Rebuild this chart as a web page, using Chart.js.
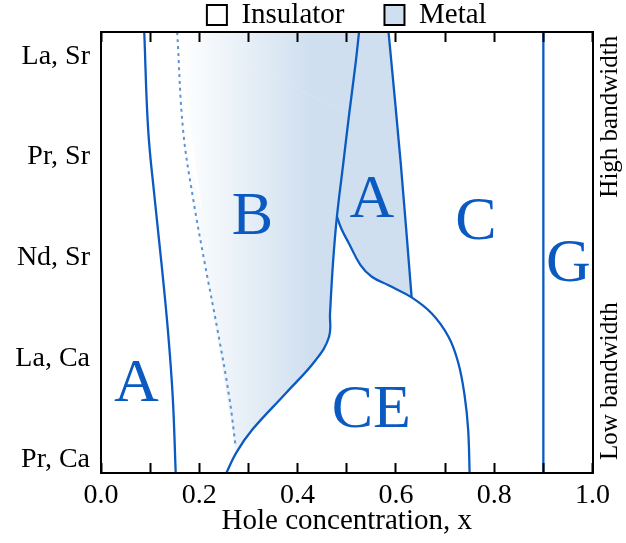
<!DOCTYPE html>
<html>
<head>
<meta charset="utf-8">
<script src="https://cdn.jsdelivr.net/npm/chart.js@4.4.0/dist/chart.umd.min.js"></script>
<style>
  html, body { margin: 0; padding: 0; background: #fff; }
  #wrap { width: 626px; height: 543px; }
</style>
</head>
<body>
<div id="wrap"><canvas id="chart" width="626" height="543"></canvas></div>
<script>
// Compuestos en el eje y (índice 0 = abajo) y marcas del eje x
const compounds = ['Pr, Ca', 'La, Ca', 'Nd, Sr', 'Pr, Sr', 'La, Sr'];
const compoundTicks = [0, 1, 2, 3, 4];
const xTickValues = [0, 0.1, 0.2, 0.3, 0.4, 0.5, 0.6, 0.7, 0.8, 0.9, 1.0];
const xTickLabels = ['0.0', '', '0.2', '', '0.4', '', '0.6', '', '0.8', '', '1.0'];

// Fronteras de fase (x = concentración de huecos, y = compuesto)
const boundaryA_x = [0.088, 0.096, 0.109, 0.123, 0.136, 0.146, 0.152];
const boundaryA_y = [4.24, 3.27, 2.60, 1.95, 1.29, 0.62, -0.13];

const dotted_x = [0.155, 0.167, 0.187, 0.211, 0.237, 0.261, 0.274];
const dotted_y = [4.24, 3.27, 2.60, 1.95, 1.29, 0.62, 0.13];

const boundaryB_x = [0.255, 0.275, 0.308, 0.376, 0.437, 0.464, 0.466, 0.472, 0.480, 0.493, 0.505, 0.518, 0.525];
const boundaryB_y = [-0.13, 0.07, 0.30, 0.66, 0.99, 1.22, 1.45, 1.95, 2.41, 2.94, 3.43, 3.93, 4.24];

// borde izquierdo de la zona metálica A (solo para el relleno)
const metalA_x = [0.632, 0.585, 0.551, 0.528, 0.504, 0.490, 0.480, 0.480, 0.493, 0.505, 0.518, 0.525];
const metalA_y = [1.61, 1.73, 1.815, 1.93, 2.15, 2.28, 2.41, 2.41, 2.94, 3.43, 3.93, 4.24];

const boundaryC_x = [0.632, 0.610, 0.585];
const boundaryC_y = [1.61, 2.93, 4.24];

const boundaryCE_x = [0.480, 0.490, 0.504, 0.528, 0.551, 0.585, 0.632, 0.673, 0.707, 0.727, 0.740, 0.747, 0.750];
const boundaryCE_y = [2.41, 2.28, 2.15, 1.93, 1.815, 1.73, 1.61, 1.45, 1.22, 0.96, 0.63, 0.30, -0.13];

const boundaryG_x = [0.9, 0.9];
const boundaryG_y = [-0.13, 4.24];

// Etiquetas de las fases y texto lateral
const regionText = ['A', 'B', 'A', 'C', 'G', 'CE'];
const regionX = [0.072, 0.308, 0.551, 0.763, 0.951, 0.550];
const regionY = [0.58, 2.24, 2.41, 2.19, 1.77, 0.33];
const bandwidthText = ['High bandwidth', 'Low bandwidth'];
const bandwidthY = [3.40, 0.78];

const legendNames = ['Insulator', 'Metal'];

const lineBlue = '#0a5ac2';
const dottedBlue = '#5d92d2';
const metalFill = '#cfdfef';
const serif = '"Liberation Serif", "Times New Roman", serif';

function pts(xs, ys) {
    return xs.map((v, i) => ({ x: v, y: ys[i] }));
}

// Degradado horizontal de la zona B
function bGradient(context) {
    const chart = context.chart;
    const xs = chart.scales.x;
    if (!chart.chartArea || !xs) return metalFill;
    const g = chart.ctx.createLinearGradient(xs.getPixelForValue(0.16), 0, xs.getPixelForValue(0.43), 0);
    g.addColorStop(0, '#ffffff');
    g.addColorStop(1, metalFill);
    return g;
}

function curve(data, extra) {
    return Object.assign({
        data: data,
        borderColor: lineBlue,
        borderWidth: 2.3,
        pointRadius: 0,
        pointHoverRadius: 0,
        tension: 0.4,
        fill: false
    }, extra || {});
}

const phaseLabels = {
    id: 'phaseLabels',
    afterDatasetsDraw(chart) {
        const { ctx, chartArea } = chart;
        const xs = chart.scales.x, ys = chart.scales.y;
        ctx.save();
        ctx.fillStyle = lineBlue;
        ctx.font = '62px ' + serif;
        ctx.textAlign = 'center';
        ctx.textBaseline = 'alphabetic';
        regionText.forEach((t, i) => {
            ctx.fillText(t, xs.getPixelForValue(regionX[i]), ys.getPixelForValue(regionY[i]));
        });
        ctx.fillStyle = '#000';
        ctx.font = '25px ' + serif;
        ctx.textBaseline = 'middle';
        bandwidthText.forEach((t, i) => {
            ctx.save();
            ctx.translate(chartArea.right + 18, ys.getPixelForValue(bandwidthY[i]));
            ctx.rotate(-Math.PI / 2);
            ctx.fillText(t, 0, 0);
            ctx.restore();
        });
        ctx.restore();
    }
};

const tickFont = { family: serif, size: 28 };

new Chart(document.getElementById('chart'), {
    type: 'line',
    data: {
        datasets: [
            curve(pts(boundaryA_x, boundaryA_y)),
            curve(pts(dotted_x, dotted_y), { borderColor: dottedBlue, borderWidth: 2, borderDash: [3, 4] }),
            curve(pts(boundaryB_x, boundaryB_y), { fill: 1, backgroundColor: bGradient }),
            curve(pts(metalA_x, metalA_y), { borderWidth: 0, fill: '+1', backgroundColor: metalFill }),
            curve(pts(boundaryC_x, boundaryC_y)),
            curve(pts(boundaryCE_x, boundaryCE_y)),
            curve(pts(boundaryG_x, boundaryG_y), { tension: 0 })
        ]
    },
    options: {
        indexAxis: 'y',
        responsive: false,
        animation: false,
        events: [],
        layout: { padding: { top: -39.5, left: 0, right: 0, bottom: 0 } },
        scales: {
            x: {
                type: 'linear', position: 'bottom', min: 0, max: 1,
                afterBuildTicks: (s) => { s.ticks = xTickValues.map(v => ({ value: v })); },
                afterFit: (s) => { s.height = 70; },
                ticks: {
                    callback: (v, i) => xTickLabels[i],
                    autoSkip: false, maxRotation: 0, minRotation: 0,
                    font: tickFont, color: '#000', padding: 16
                },
                grid: { drawOnChartArea: false, tickLength: -10, tickColor: '#000', tickWidth: 2, z: 1 },
                border: { color: '#000', width: 2, z: 2 },
                title: { display: true, text: 'Hole concentration, x', font: { family: serif, size: 29 }, color: '#000', padding: { top: 0, bottom: 4 } }
            },
            x2: {
                type: 'linear', axis: 'x', position: 'top', min: 0, max: 1,
                afterBuildTicks: (s) => { s.ticks = xTickValues.map(v => ({ value: v })); },
                afterFit: (s) => { s.height = 0; },
                ticks: { display: false },
                grid: { drawOnChartArea: false, tickLength: -10, tickColor: '#000', tickWidth: 2, z: 1 },
                border: { color: '#000', width: 2, z: 2 }
            },
            y: {
                type: 'linear', position: 'left', min: -0.13, max: 4.24,
                afterBuildTicks: (s) => { s.ticks = compoundTicks.map(v => ({ value: v })); },
                afterFit: (s) => { s.width = 101; },
                ticks: { callback: (v) => compounds[v], font: tickFont, color: '#000', padding: 11 },
                grid: { drawOnChartArea: false, drawTicks: false },
                border: { color: '#000', width: 2, z: 2 }
            },
            y2: {
                type: 'linear', axis: 'y', position: 'right', min: -0.13, max: 4.24,
                afterFit: (s) => { s.width = 31; },
                ticks: { display: false },
                grid: { drawOnChartArea: false, drawTicks: false },
                border: { color: '#000', width: 2, z: 2 }
            }
        },
        plugins: {
            filler: { drawTime: 'beforeDatasetsDraw', propagate: false },
            tooltip: { enabled: false },
            legend: {
                position: 'top',
                fullSize: false,
                maxHeight: 71.5,
                onClick: null,
                labels: {
                    boxWidth: 20,
                    boxHeight: 20,
                    padding: 40,
                    color: '#000',
                    font: { family: serif, size: 29 },
                    generateLabels: () => legendNames.map((name, i) => ({
                        text: name,
                        fillStyle: i === 0 ? '#ffffff' : metalFill,
                        strokeStyle: '#000',
                        lineWidth: 2,
                        fontColor: '#000',
                        hidden: false,
                        index: i
                    }))
                }
            }
        }
    },
    plugins: [phaseLabels]
});
</script>
</body>
</html>
